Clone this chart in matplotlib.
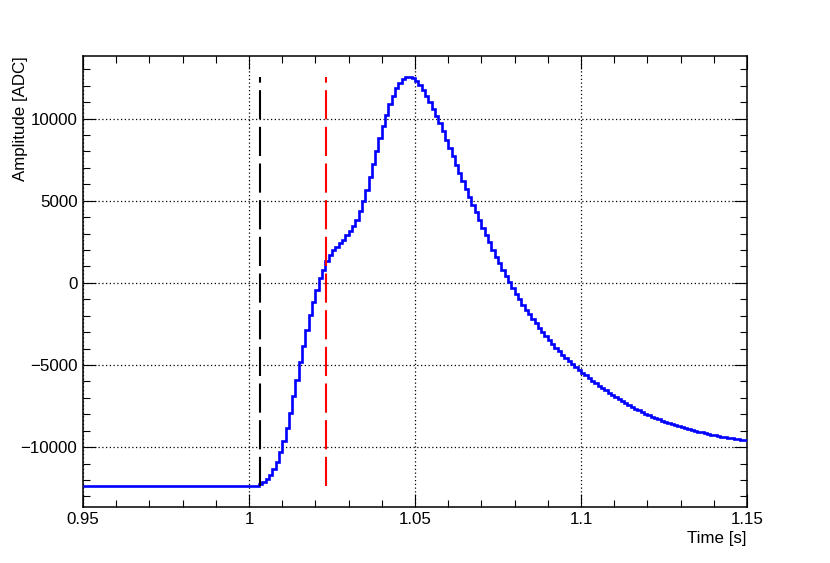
import numpy as np
import matplotlib
matplotlib.use('Agg')
import matplotlib.pyplot as plt
from matplotlib.ticker import MultipleLocator, FixedLocator, FixedFormatter

plt.rcParams['font.family'] = ['Liberation Sans', 'DejaVu Sans']

# histogram binning (s)
t_start = 0.95
bin_width = 0.001

# amplitude per bin [ADC]
amplitude = [
    -12380, -12378, -12376, -12374, -12372, -12370, -12368, -12366, -12364, -12362,
    -12360, -12358, -12356, -12354, -12352, -12350, -12348, -12346, -12344, -12342,
    -12340, -12338, -12337, -12336, -12336, -12336, -12337, -12338, -12340, -12342,
    -12344, -12346, -12348, -12350, -12351, -12352, -12352, -12352, -12351, -12350,
    -12350, -12350, -12351, -12352, -12353, -12354, -12355, -12356, -12357, -12358,
    -12358, -12355, -12340, -12250, -12150, -11950, -11700, -11350, -10900, -10300,
    -9650, -8850, -7900, -6900, -5900, -4800, -3850, -2850, -1950, -1150,
    -450, 300, 800, 1300, 1700, 2000, 2200, 2400, 2620, 2880,
    3130, 3430, 3840, 4350, 5000, 5670, 6420, 7240, 8050, 8820,
    9570, 10240, 10890, 11400, 11870, 12170, 12380, 12520, 12540, 12440,
    12260, 12040, 11730, 11370, 11000, 10590, 10140, 9700, 9230, 8720,
    8210, 7700, 7200, 6690, 6190, 5730, 5230, 4760, 4310, 3850,
    3360, 2900, 2460, 2020, 1600, 1190, 790, 400, 30, -330,
    -680, -1010, -1330, -1630, -1920, -2200, -2470, -2730, -2980, -3230,
    -3470, -3710, -3940, -4160, -4370, -4580, -4780, -4970, -5150, -5310,
    -5460, -5630, -5800, -5960, -6110, -6250, -6400, -6550, -6690, -6820,
    -6950, -7080, -7200, -7320, -7440, -7550, -7660, -7760, -7860, -7960,
    -8050, -8140, -8220, -8300, -8380, -8450, -8520, -8590, -8660, -8720,
    -8780, -8840, -8900, -8960, -9010, -9060, -9110, -9160, -9200, -9250,
    -9290, -9330, -9370, -9400, -9440, -9470, -9500, -9530, -9560, -9590,
]

# marker times (s)
t_black = 1.0034
t_red = 1.0232

xticks = [0.95, 1.0, 1.05, 1.1, 1.15]
xtick_labels = ['0.95', '1', '1.05', '1.1', '1.15']
yticks = [-10000, -5000, 0, 5000, 10000]
ytick_labels = ['\u221210000', '\u22125000', '0', '5000', '10000']

amp = np.array(amplitude, dtype=float)
edges = t_start + bin_width * np.arange(len(amp) + 1)

fig = plt.figure(figsize=(8.3, 5.63), dpi=100)
ax = fig.add_axes([0.1, 0.1, 0.8, 0.8])

ax.stairs(amp, edges, color=(0, 0, 1), lw=1.9, baseline=None, zorder=3)

lo, hi = amp.min(), amp.max()
for t, c in [(t_black, 'black'), (t_red, 'red')]:
    ax.plot([t, t], [lo, hi], color=c, lw=1.5, dashes=(14, 3.6), zorder=4)

ax.set_xlim(edges[0], edges[-1])
span = hi - lo
ax.set_ylim(lo - 0.05 * span, hi + 0.05 * span)

ax.xaxis.set_major_locator(FixedLocator(xticks))
ax.xaxis.set_major_formatter(FixedFormatter(xtick_labels))
ax.xaxis.set_minor_locator(MultipleLocator(0.01))
ax.yaxis.set_major_locator(FixedLocator(yticks))
ax.yaxis.set_major_formatter(FixedFormatter(ytick_labels))
ax.yaxis.set_minor_locator(MultipleLocator(1000))

ax.grid(True, which='major', color='black', lw=0.9, linestyle=(0, (1, 2)))
ax.tick_params(which='both', direction='in', top=True, right=True,
               width=0.8, labelsize=12.2, colors='black')
ax.tick_params(which='major', length=9.7, pad=4)
ax.tick_params(which='minor', length=4.9)
for s in ax.spines.values():
    s.set_linewidth(1.1)

fig.text(746 / 830, 1 - 538 / 563, 'Time [s]', ha='right', va='center', fontsize=12.2)
fig.text(20 / 830, 1 - 56 / 563, 'Amplitude [ADC]', rotation=90,
         ha='center', va='top', fontsize=12.2)

fig.savefig('out.png', dpi=100)
